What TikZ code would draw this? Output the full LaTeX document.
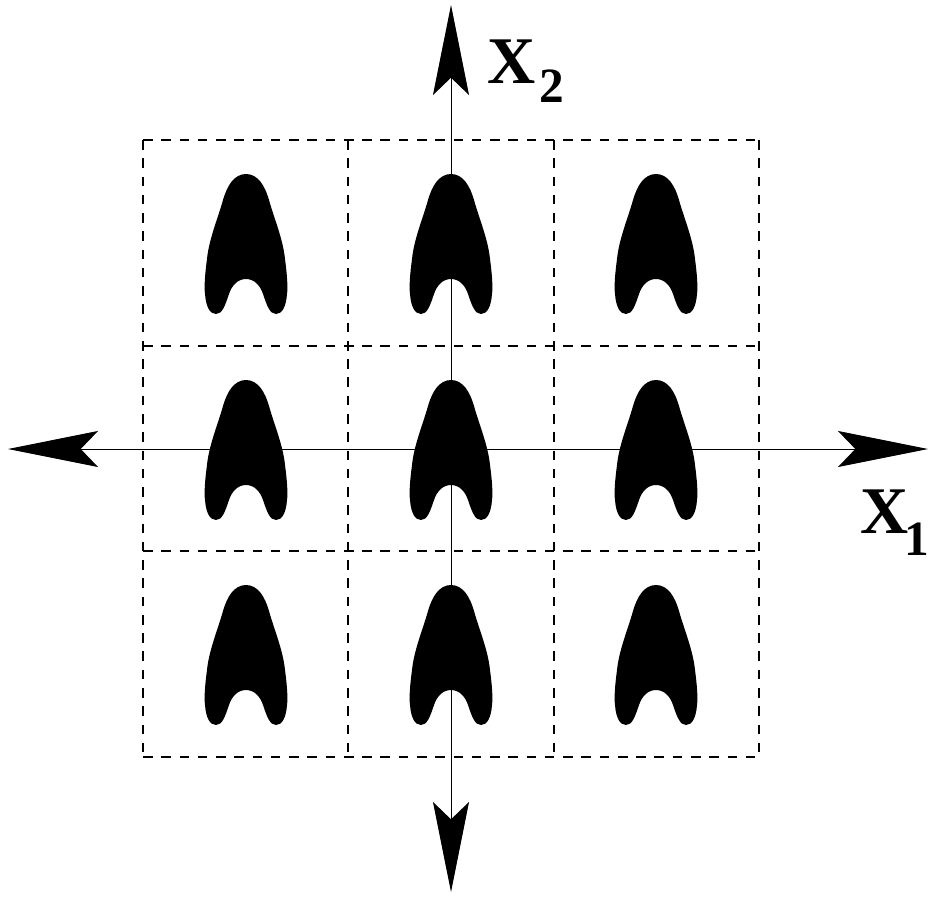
\documentclass[tikz,border=0pt]{standalone}
\usepackage{fontspec}
\setmainfont{Liberation Serif}
\usetikzlibrary{arrows.meta}

\tikzset{
	axisline/.style={line width=0.7pt, {Stealth[length=67.5pt,width=27pt,inset=13pt]}-{Stealth[length=67.5pt,width=27pt,inset=13pt]}},
	gridline/.style={line width=1.4pt, dash pattern=on 7.2pt off 6.5pt},
	axislabel/.style={inner sep=0pt, outer sep=0pt, anchor=base west, font=\bfseries\fontsize{50}{50}\selectfont},
	blob/.pic={
		\fill (0,0) .. controls (12,0) and (19,12) .. (23,26)
			.. controls (28,44) and (37,65) .. (39,85)
			.. controls (41,100) and (42,113) .. (41,120)
			.. controls (40,133) and (36,140) .. (30,140)
			.. controls (24,140) and (21,132) .. (17,120)
			.. controls (14,111) and (8,105) .. (0,105)
			.. controls (-8,105) and (-14,111) .. (-17,120)
			.. controls (-21,132) and (-24,140) .. (-30,140)
			.. controls (-36,140) and (-40,133) .. (-41,120)
			.. controls (-42,113) and (-41,100) .. (-39,85)
			.. controls (-37,65) and (-28,44) .. (-23,26)
			.. controls (-19,12) and (-12,0) .. (0,0) -- cycle;
	}
}

\begin{document}
\begin{tikzpicture}[x=0.75pt,y=-0.75pt]
	\useasboundingbox (0,0) rectangle (930,896);
	% dashed cells
	\foreach \gx in {143,348,554,759}
		\draw[gridline] (\gx,140) -- (\gx,757);
	\foreach \gy in {140,346,551,757}
		\draw[gridline] (143,\gy) -- (759,\gy);
	% axes
	\coordinate (west) at (8,449);
	\coordinate (east) at (928,449);
	\coordinate (north) at (451,5);
	\coordinate (south) at (451,892);
	\draw[axisline] (west) -- (east);
	\draw[axisline] (south) -- (north);
	% blobs
	\foreach \bx in {246,451,656}
		\foreach \by in {174,380,585}
			\pic at (\bx,\by) {blob};
	\node[axislabel] (x1) at (860,533) {X\raisebox{-17pt}{\fontsize{37}{37}\selectfont\hspace{-2.5pt}1}};
	\node[axislabel] (x2) at (487,83) {X\raisebox{-14.5pt}{\fontsize{37}{37}\selectfont\hspace{3pt}2}};
\end{tikzpicture}
\end{document}
